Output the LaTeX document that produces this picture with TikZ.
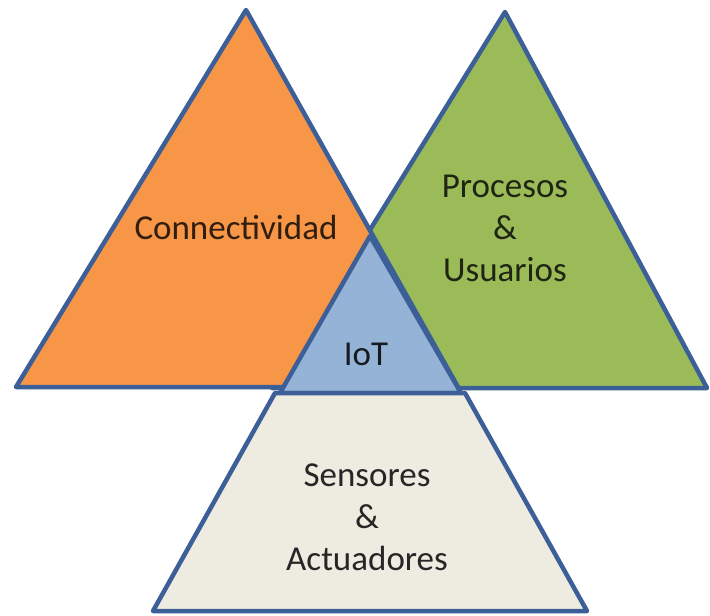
\documentclass[tikz,border=0pt]{standalone}
\usepackage{fontspec}
\setmainfont{Carlito}
\usetikzlibrary{positioning}
\definecolor{edgeblue}{HTML}{3C5F97}
\definecolor{conorange}{HTML}{F79646}
\definecolor{progreen}{HTML}{9BBB59}
\definecolor{iotblue}{HTML}{95B3D7}
\definecolor{senbeige}{HTML}{EEECE1}
\tikzset{
  tri/.style={draw=edgeblue, line width=4.5pt, line join=round},
  lbl/.style={align=center, font=\fontsize{35}{42}\selectfont, inner sep=0pt}
}
\begin{document}
\begin{tikzpicture}[x=1pt, y=-1pt]
			\useasboundingbox (0, 0) rectangle (710, 616);
			\draw[tri, fill=progreen] (505, 12) -- (272, 388) -- (707, 388) -- cycle;
			\draw[tri, fill=conorange] (246, 10) -- (16, 387) -- (458, 387) -- cycle;
			\draw[tri, fill=iotblue] (370, 236) -- (280, 393) -- (461, 393) -- cycle;
			\draw[tri, fill=senbeige] (275, 393) -- (465, 393) -- (587, 611) -- (153, 611) -- cycle;
			\node[lbl, text=black!80!conorange] (con) at (236, 227) {Connectividad};
			\node[lbl, text=black!80!progreen] (pro) at (505, 228) {Procesos\\\&\\Usuarios};
			\node[lbl, text=black!85!iotblue] (iot) at (366, 354) {IoT};
			\node[lbl, text=black!85] (sen) at (367, 517) {Sensores\\\&\\Actuadores};
\end{tikzpicture}
\end{document}
